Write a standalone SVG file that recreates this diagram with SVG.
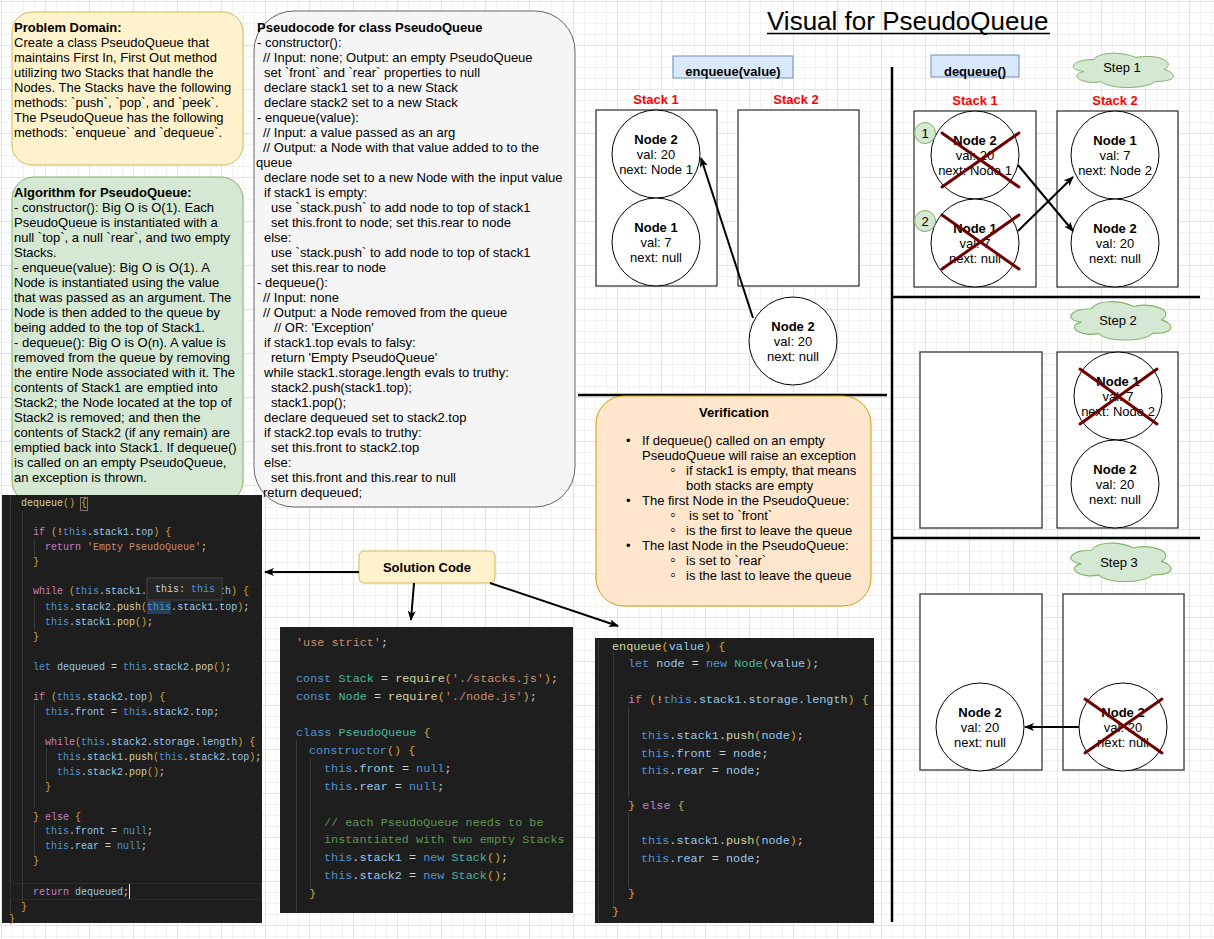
<svg xmlns="http://www.w3.org/2000/svg" width="1214" height="939" viewBox="0 0 1214 939">
<defs>
<pattern id="grid" x="1" y="1" width="44" height="44" patternUnits="userSpaceOnUse">
<path d="M11.5 0V44M22.5 0V44M33.5 0V44M0 11.5H44M0 22.5H44M0 33.5H44" stroke="#f1f1f1" stroke-width="1" fill="none"/>
<path d="M0.5 0V44M0 0.5H44" stroke="#e3e3e3" stroke-width="1" fill="none"/>
</pattern>
<marker id="arr" viewBox="0 0 10 8" markerWidth="10" markerHeight="8" refX="9" refY="4" orient="auto" markerUnits="userSpaceOnUse">
<path d="M0,0 L10,4 L0,8 L2.5,4 Z" fill="#000"/>
</marker>
<path id="cloud" d="M28,10 C5.6,10 0,20 17.92,22 C0,26.4 20.16,36 34.72,32 C44.8,40 78.4,40 89.6,32 C112,32 112,24 98,20 C112,12 89.6,4 70,8 C56,2 33.6,2 28,10 Z"/>
<style>
.t{font-family:"Liberation Sans",Arial,Helvetica,"DejaVu Sans",sans-serif;font-size:13px;fill:#000}
.b{font-weight:bold}
.m{text-anchor:middle}
.red{fill:#ff0000;font-weight:bold}
.sub{font-size:16px}
.node{fill:#fff;stroke:#000;stroke-width:1}
.stk{fill:#fff;stroke:#000;stroke-width:1}
.stk2{fill:#fff;stroke:#444;stroke-width:1.4}
.x{stroke:#6f0000;stroke-width:3;stroke-linecap:round}
.conn{stroke:#000;stroke-width:2;fill:none}
.div{stroke:#000;stroke-width:2.5}
.cl{fill:#d5e8d4;stroke:#82b366;stroke-width:1;vector-effect:non-scaling-stroke}
.code{font-family:"Liberation Mono","DejaVu Sans Mono",monospace;white-space:pre;fill:#cfcfcf}
.c10{font-size:10px}
.c12{font-size:11.8px}
.kw{fill:#c27fc0}
.bl{fill:#4f93d2}
.pr{fill:#94c9ec}
.fn{fill:#d6d3a0}
.st{fill:#c88c6c}
.ty{fill:#45b99f}
.cm{fill:#5f9450}
.br{fill:#d1a23a}
.gd{stroke:#3a3a3a;stroke-width:1}
</style>
</defs>

<rect x="0" y="0" width="1214" height="939" fill="#ffffff"/>
<rect x="0" y="0" width="1214" height="939" fill="url(#grid)"/>

<g id="problem-domain">
<rect x="12" y="12" width="231" height="153" rx="20" fill="#fff2cc" stroke="#d6b656"/>
<text class="t" x="14" y="31.5"><tspan class="b">Problem Domain:</tspan><tspan x="14" dy="15">Create a class PseudoQueue that</tspan><tspan x="14" dy="15">maintains First In, First Out method</tspan><tspan x="14" dy="15">utilizing two Stacks that handle the</tspan><tspan x="14" dy="15">Nodes. The Stacks have the following</tspan><tspan x="14" dy="15">methods: `push`, `pop`, and `peek`.</tspan><tspan x="14" dy="15">The PseudoQueue has the following</tspan><tspan x="14" dy="15">methods: `enqueue` and `dequeue`.</tspan></text>
</g>

<g id="algorithm">
<rect x="12" y="177" width="231" height="326" rx="22" fill="#d5e8d4" stroke="#82b366"/>
<text class="t" x="14" y="196.5"><tspan class="b">Algorithm for PseudoQueue:</tspan><tspan x="14" dy="15">- constructor(): Big O is O(1). Each</tspan><tspan x="14" dy="15">PseudoQueue is instantiated with a</tspan><tspan x="14" dy="15">null `top`, a null `rear`, and two empty</tspan><tspan x="14" dy="15">Stacks.</tspan><tspan x="14" dy="15">- enqueue(value): Big O is O(1). A</tspan><tspan x="14" dy="15">Node is instantiated using the value</tspan><tspan x="14" dy="15">that was passed as an argument. The</tspan><tspan x="14" dy="15">Node is then added to the queue by</tspan><tspan x="14" dy="15">being added to the top of Stack1.</tspan><tspan x="14" dy="15">- dequeue(): Big O is O(n). A value is</tspan><tspan x="14" dy="15">removed from the queue by removing</tspan><tspan x="14" dy="15">the entire Node associated with it. The</tspan><tspan x="14" dy="15">contents of Stack1 are emptied into</tspan><tspan x="14" dy="15">Stack2; the Node located at the top of</tspan><tspan x="14" dy="15">Stack2 is removed; and then the</tspan><tspan x="14" dy="15">contents of Stack2 (if any remain) are</tspan><tspan x="14" dy="15">emptied back into Stack1. If dequeue()</tspan><tspan x="14" dy="15">is called on an empty PseudoQueue,</tspan><tspan x="14" dy="15">an exception is thrown.</tspan></text>
</g>

<g id="pseudocode">
<rect x="254" y="11" width="321" height="496" rx="40" fill="#f5f5f5" stroke="#666666"/>
<text class="t" x="257" y="31.5"><tspan class="b">Pseudocode for class PseudoQueue</tspan><tspan x="257" dy="15">- constructor():</tspan><tspan x="263" dy="15">// Input: none; Output: an empty PseudoQueue</tspan><tspan x="264" dy="15">set `front` and `rear` properties to null</tspan><tspan x="264" dy="15">declare stack1 set to a new Stack</tspan><tspan x="264" dy="15">declare stack2 set to a new Stack</tspan><tspan x="257" dy="15">- enqueue(value):</tspan><tspan x="263" dy="15">// Input: a value passed as an arg</tspan><tspan x="263" dy="15">// Output: a Node with that value added to to the</tspan><tspan x="256" dy="15">queue</tspan><tspan x="264" dy="15">declare node set to a new Node with the input value</tspan><tspan x="264" dy="15">if stack1 is empty:</tspan><tspan x="271" dy="15">use `stack.push` to add node to top of stack1</tspan><tspan x="271" dy="15">set this.front to node; set this.rear to node</tspan><tspan x="264" dy="15">else:</tspan><tspan x="271" dy="15">use `stack.push` to add node to top of stack1</tspan><tspan x="271" dy="15">set this.rear to node</tspan><tspan x="257" dy="15">- dequeue():</tspan><tspan x="263" dy="15">// Input: none</tspan><tspan x="263" dy="15">// Output: a Node removed from the queue</tspan><tspan x="274" dy="15">// OR: 'Exception'</tspan><tspan x="264" dy="15">if stack1.top evals to falsy:</tspan><tspan x="271" dy="15">return 'Empty PseudoQueue'</tspan><tspan x="264" dy="15">while stack1.storage.length evals to truthy:</tspan><tspan x="271" dy="15">stack2.push(stack1.top);</tspan><tspan x="271" dy="15">stack1.pop();</tspan><tspan x="264" dy="15">declare dequeued set to stack2.top</tspan><tspan x="264" dy="15">if stack2.top evals to truthy:</tspan><tspan x="271" dy="15">set this.front to stack2.top</tspan><tspan x="264" dy="15">else:</tspan><tspan x="271" dy="15">set this.front and this.rear to null</tspan><tspan x="263" dy="15">return dequeued;</tspan></text>
</g>

<g id="code-dequeue">
<rect x="2" y="495" width="260" height="428" fill="#1e1e1e"/>
<line class="gd" x1="10.5" y1="497" x2="10.5" y2="915"/>
<line class="gd" x1="22.5" y1="511" x2="22.5" y2="902"/>
<line class="gd" x1="34.5" y1="539" x2="34.5" y2="556"/>
<line class="gd" x1="34.5" y1="597" x2="34.5" y2="630"/>
<line class="gd" x1="34.5" y1="703" x2="34.5" y2="808"/>
<line class="gd" x1="46.5" y1="748" x2="46.5" y2="781"/>
<line class="gd" x1="34.5" y1="822" x2="34.5" y2="855"/>
<rect x="10.5" y="883.5" width="251" height="16" fill="none" stroke="#2c2c2c"/>
<rect x="80.5" y="497.5" width="7" height="13" fill="none" stroke="#777"/>
<rect x="147" y="601" width="24" height="13" fill="#264f78" opacity="0.7"/>
<text class="code c10" x="21" y="505.5"><tspan class="fn">dequeue</tspan><tspan class="br">()</tspan> <tspan class="br">{</tspan></text>
<text class="code c10" x="33" y="534.5"><tspan class="kw">if</tspan> <tspan class="br">(</tspan>!<tspan class="bl">this</tspan>.<tspan class="pr">stack1</tspan>.<tspan class="pr">top</tspan><tspan class="br">)</tspan> <tspan class="br">{</tspan></text>
<text class="code c10" x="45" y="549.5"><tspan class="kw">return</tspan> <tspan class="st">'Empty PseudoQueue'</tspan>;</text>
<text class="code c10" x="33" y="564.5"><tspan class="br">}</tspan></text>
<text class="code c10" x="33" y="593.5"><tspan class="kw">while</tspan> <tspan class="br">(</tspan><tspan class="bl">this</tspan>.<tspan class="pr">stack1</tspan>.</text>
<text class="code c10" x="219" y="593.5"><tspan class="pr">th</tspan><tspan class="br">)</tspan> <tspan class="br">{</tspan></text>
<text class="code c10" x="45" y="609.5"><tspan class="bl">this</tspan>.<tspan class="pr">stack2</tspan>.<tspan class="fn">push</tspan><tspan class="br">(</tspan><tspan class="bl">this</tspan>.<tspan class="pr">stack1</tspan>.<tspan class="pr">top</tspan><tspan class="br">)</tspan>;</text>
<text class="code c10" x="45" y="624.5"><tspan class="bl">this</tspan>.<tspan class="pr">stack1</tspan>.<tspan class="fn">pop</tspan><tspan class="br">()</tspan>;</text>
<text class="code c10" x="33" y="639.5"><tspan class="br">}</tspan></text>
<text class="code c10" x="33" y="669.5"><tspan class="bl">let</tspan> <tspan class="pr">dequeued</tspan> = <tspan class="bl">this</tspan>.<tspan class="pr">stack2</tspan>.<tspan class="fn">pop</tspan><tspan class="br">()</tspan>;</text>
<text class="code c10" x="33" y="699.5"><tspan class="kw">if</tspan> <tspan class="br">(</tspan><tspan class="bl">this</tspan>.<tspan class="pr">stack2</tspan>.<tspan class="pr">top</tspan><tspan class="br">)</tspan> <tspan class="br">{</tspan></text>
<text class="code c10" x="45" y="714.5"><tspan class="bl">this</tspan>.<tspan class="pr">front</tspan> = <tspan class="bl">this</tspan>.<tspan class="pr">stack2</tspan>.<tspan class="pr">top</tspan>;</text>
<text class="code c10" x="45" y="744.5"><tspan class="kw">while</tspan><tspan class="br">(</tspan><tspan class="bl">this</tspan>.<tspan class="pr">stack2</tspan>.<tspan class="pr">storage</tspan>.<tspan class="pr">length</tspan><tspan class="br">)</tspan> <tspan class="br">{</tspan></text>
<text class="code c10" x="57" y="759.5"><tspan class="bl">this</tspan>.<tspan class="pr">stack1</tspan>.<tspan class="fn">push</tspan><tspan class="br">(</tspan><tspan class="bl">this</tspan>.<tspan class="pr">stack2</tspan>.<tspan class="pr">top</tspan><tspan class="br">)</tspan>;</text>
<text class="code c10" x="57" y="774.5"><tspan class="bl">this</tspan>.<tspan class="pr">stack2</tspan>.<tspan class="fn">pop</tspan><tspan class="br">()</tspan>;</text>
<text class="code c10" x="45" y="789.5"><tspan class="br">}</tspan></text>
<text class="code c10" x="33" y="819.5"><tspan class="br">}</tspan> <tspan class="kw">else</tspan> <tspan class="br">{</tspan></text>
<text class="code c10" x="45" y="833.5"><tspan class="bl">this</tspan>.<tspan class="pr">front</tspan> = <tspan class="bl">null</tspan>;</text>
<text class="code c10" x="45" y="848.5"><tspan class="bl">this</tspan>.<tspan class="pr">rear</tspan> = <tspan class="bl">null</tspan>;</text>
<text class="code c10" x="33" y="863.5"><tspan class="br">}</tspan></text>
<text class="code c10" x="33" y="894.5"><tspan class="kw">return</tspan> <tspan class="pr">dequeued</tspan>;</text>
<line x1="129.5" y1="884" x2="129.5" y2="899" stroke="#e0e0e0" stroke-width="1"/>
<text class="code c10" x="21" y="909.5"><tspan class="br">}</tspan></text>
<text class="code c10" x="9" y="922"><tspan class="br">}</tspan></text>
<rect x="147" y="578" width="75" height="22" fill="#252526" stroke="#454545"/>
<text class="code c10" x="155" y="591.5">this: <tspan class="bl">this</tspan></text>
</g>

<g id="code-class">
<rect x="280" y="627" width="293" height="286" fill="#1e1e1e"/>
<line class="gd" x1="296.5" y1="740" x2="296.5" y2="912"/>
<line class="gd" x1="310.5" y1="758" x2="310.5" y2="887"/>
<text class="code c12" x="296" y="646"><tspan class="st">'use strict'</tspan>;</text>
<text class="code c12" x="296" y="682"><tspan class="bl">const</tspan> <tspan class="ty">Stack</tspan> = <tspan class="fn">require</tspan><tspan class="br">(</tspan><tspan class="st">'./stacks.js'</tspan><tspan class="br">)</tspan>;</text>
<text class="code c12" x="296" y="700"><tspan class="bl">const</tspan> <tspan class="ty">Node</tspan> = <tspan class="fn">require</tspan><tspan class="br">(</tspan><tspan class="st">'./node.js'</tspan><tspan class="br">)</tspan>;</text>
<text class="code c12" x="296" y="736"><tspan class="bl">class</tspan> <tspan class="ty">PseudoQueue</tspan> <tspan class="br">{</tspan></text>
<text class="code c12" x="309" y="754"><tspan class="bl">constructor</tspan><tspan class="br">()</tspan> <tspan class="br">{</tspan></text>
<text class="code c12" x="324" y="772"><tspan class="bl">this</tspan>.<tspan class="pr">front</tspan> = <tspan class="bl">null</tspan>;</text>
<text class="code c12" x="324" y="790"><tspan class="bl">this</tspan>.<tspan class="pr">rear</tspan> = <tspan class="bl">null</tspan>;</text>
<text class="code c12 cm" x="324" y="826">// each PseudoQueue needs to be</text>
<text class="code c12 cm" x="324" y="843">instantiated with two empty Stacks</text>
<text class="code c12" x="324" y="861"><tspan class="bl">this</tspan>.<tspan class="pr">stack1</tspan> = <tspan class="bl">new</tspan> <tspan class="ty">Stack</tspan><tspan class="br">()</tspan>;</text>
<text class="code c12" x="324" y="879"><tspan class="bl">this</tspan>.<tspan class="pr">stack2</tspan> = <tspan class="bl">new</tspan> <tspan class="ty">Stack</tspan><tspan class="br">()</tspan>;</text>
<text class="code c12" x="309" y="897"><tspan class="br">}</tspan></text>
</g>

<g id="code-enqueue">
<rect x="595" y="638" width="279" height="285" fill="#1e1e1e"/>
<line class="gd" x1="598.5" y1="640" x2="598.5" y2="923"/>
<line class="gd" x1="613.5" y1="652" x2="613.5" y2="907"/>
<line class="gd" x1="628.5" y1="707" x2="628.5" y2="797"/>
<line class="gd" x1="628.5" y1="813" x2="628.5" y2="887"/>
<text class="code c12" x="612" y="650"><tspan class="fn">enqueue</tspan><tspan class="br">(</tspan><tspan class="pr">value</tspan><tspan class="br">)</tspan> <tspan class="br">{</tspan></text>
<text class="code c12" x="628" y="667"><tspan class="bl">let</tspan> <tspan class="pr">node</tspan> = <tspan class="bl">new</tspan> <tspan class="ty">Node</tspan><tspan class="br">(</tspan><tspan class="pr">value</tspan><tspan class="br">)</tspan>;</text>
<text class="code c12" x="628" y="703"><tspan class="kw">if</tspan> <tspan class="br">(</tspan>!<tspan class="bl">this</tspan>.<tspan class="pr">stack1</tspan>.<tspan class="pr">storage</tspan>.<tspan class="pr">length</tspan><tspan class="br">)</tspan> <tspan class="br">{</tspan></text>
<text class="code c12" x="641" y="739"><tspan class="bl">this</tspan>.<tspan class="pr">stack1</tspan>.<tspan class="fn">push</tspan><tspan class="br">(</tspan><tspan class="pr">node</tspan><tspan class="br">)</tspan>;</text>
<text class="code c12" x="641" y="757"><tspan class="bl">this</tspan>.<tspan class="pr">front</tspan> = <tspan class="pr">node</tspan>;</text>
<text class="code c12" x="641" y="774"><tspan class="bl">this</tspan>.<tspan class="pr">rear</tspan> = <tspan class="pr">node</tspan>;</text>
<text class="code c12" x="628" y="809"><tspan class="br">}</tspan> <tspan class="kw">else</tspan> <tspan class="br">{</tspan></text>
<text class="code c12" x="641" y="844"><tspan class="bl">this</tspan>.<tspan class="pr">stack1</tspan>.<tspan class="fn">push</tspan><tspan class="br">(</tspan><tspan class="pr">node</tspan><tspan class="br">)</tspan>;</text>
<text class="code c12" x="641" y="862"><tspan class="bl">this</tspan>.<tspan class="pr">rear</tspan> = <tspan class="pr">node</tspan>;</text>
<text class="code c12" x="628" y="897"><tspan class="br">}</tspan></text>
<text class="code c12" x="612" y="915"><tspan class="br">}</tspan></text>
</g>

<g id="solution-code">
<rect x="359" y="551" width="136" height="32" rx="5" fill="#fff2cc" stroke="#d6b656"/>
<text class="t b m" x="427" y="571.5">Solution Code</text>
</g>

<g id="title">
<text class="t" x="767" y="30" style="font-size:26px">Visual for PseudoQueue</text>
<line x1="767" y1="33.5" x2="1050" y2="33.5" stroke="#000" stroke-width="1.5"/>
</g>

<g id="dividers">
<line class="div" x1="892" y1="67" x2="892" y2="922"/>
<line class="div" x1="578" y1="395" x2="887" y2="395"/>
<line class="div" x1="892" y1="297" x2="1200" y2="297"/>
<line class="div" x1="892" y1="538" x2="1200" y2="538"/>
</g>

<g id="enqueue-label">
<rect x="673" y="56" width="120" height="22" fill="#dae8fc" stroke="#6c8ebf"/>
<text class="t b m" x="733" y="75.5">enqueue(value)</text>
</g>

<g id="enq-stack1">
<text class="t red m" x="656" y="104">Stack 1</text>
<rect class="stk" x="596" y="110" width="121" height="176"/>
</g>
<g id="enq-stack2">
<text class="t red m" x="796" y="104">Stack 2</text>
<rect class="stk" x="738" y="110" width="121" height="176"/>
</g>
<g id="enq-node2">
<circle class="node" cx="656" cy="154" r="44"/>
<text class="t m" x="656" y="143.5"><tspan class="b">Node 2</tspan><tspan x="656" dy="15">val: 20</tspan><tspan x="656" dy="15">next: Node 1</tspan></text>
</g>
<g id="enq-node1">
<circle class="node" cx="656" cy="242" r="44"/>
<text class="t m" x="656" y="231.5"><tspan class="b">Node 1</tspan><tspan x="656" dy="15">val: 7</tspan><tspan x="656" dy="15">next: null</tspan></text>
</g>
<g id="enq-new-node2">
<circle class="node" cx="793" cy="341" r="44"/>
<text class="t m" x="793" y="330.5"><tspan class="b">Node 2</tspan><tspan x="793" dy="15">val: 20</tspan><tspan x="793" dy="15">next: null</tspan></text>
</g>

<g id="verification">
<rect x="596" y="396" width="275" height="210" rx="28" fill="#ffe6cc" stroke="#d79b00"/>
<text class="t b m" x="734" y="416.5">Verification</text>
<text class="t"><tspan x="626" y="444.5">•</tspan><tspan x="642" y="444.5">If dequeue() called on an empty</tspan><tspan x="642" y="459.5">PseudoQueue will raise an exception</tspan><tspan class="sub" x="670" y="475">◦</tspan><tspan x="686" y="474.5">if stack1 is empty, that means</tspan><tspan x="686" y="489.5">both stacks are empty</tspan><tspan x="626" y="504.5">•</tspan><tspan x="642" y="504.5">The first Node in the PseudoQueue:</tspan><tspan class="sub" x="670" y="520">◦</tspan><tspan x="689" y="519.5">is set to `front`</tspan><tspan class="sub" x="670" y="535">◦</tspan><tspan x="686" y="534.5">is the first to leave the queue</tspan><tspan x="626" y="549.5">•</tspan><tspan x="642" y="549.5">The last Node in the PseudoQueue:</tspan><tspan class="sub" x="670" y="565">◦</tspan><tspan x="686" y="564.5">is set to `rear`</tspan><tspan class="sub" x="670" y="580">◦</tspan><tspan x="686" y="579.5">is the last to leave the queue</tspan></text>
</g>

<g id="dequeue-label">
<rect x="931" y="55" width="88" height="22" fill="#dae8fc" stroke="#6c8ebf"/>
<text class="t b m" x="975" y="75.5">dequeue()</text>
</g>

<g id="step1">
<use href="#cloud" class="cl" transform="translate(1066,49.5)"/>
<text class="t m" x="1122" y="71.5">Step 1</text>
</g>
<g id="s1-stack1">
<text class="t red m" x="975" y="104.5">Stack 1</text>
<rect class="stk" x="914" y="111" width="122" height="176"/>
</g>
<g id="s1-stack2">
<text class="t red m" x="1115" y="104.5">Stack 2</text>
<rect class="stk" x="1057" y="111" width="121" height="176"/>
</g>
<g id="s1-node2">
<circle class="node" cx="975" cy="155" r="44"/>
<text class="t m" x="975" y="144.5"><tspan class="b">Node 2</tspan><tspan x="975" dy="15">val: 20</tspan><tspan x="975" dy="15">next: Node 1</tspan></text>
<line class="x" x1="942" y1="133" x2="1019" y2="187"/>
<line class="x" x1="942" y1="187" x2="1019" y2="133"/>
</g>
<g id="s1-node1">
<circle class="node" cx="975" cy="243" r="44"/>
<text class="t m" x="975" y="232.5"><tspan class="b">Node 1</tspan><tspan x="975" dy="15">val: 7</tspan><tspan x="975" dy="15">next: null</tspan></text>
<line class="x" x1="942" y1="215" x2="1019" y2="269"/>
<line class="x" x1="942" y1="269" x2="1019" y2="215"/>
</g>
<g id="s1-badge1">
<circle cx="925" cy="133" r="10.5" fill="#d5e8d4" stroke="#82b366"/>
<text class="t m" x="925" y="137.5">1</text>
</g>
<g id="s1-badge2">
<circle cx="925" cy="221" r="10.5" fill="#d5e8d4" stroke="#82b366"/>
<text class="t m" x="925" y="225.5">2</text>
</g>
<g id="s1-s2-node1">
<circle class="node" cx="1115" cy="155" r="44"/>
<text class="t m" x="1115" y="144.5"><tspan class="b">Node 1</tspan><tspan x="1115" dy="15">val: 7</tspan><tspan x="1115" dy="15">next: Node 2</tspan></text>
</g>
<g id="s1-s2-node2">
<circle class="node" cx="1115" cy="243" r="44"/>
<text class="t m" x="1115" y="232.5"><tspan class="b">Node 2</tspan><tspan x="1115" dy="15">val: 20</tspan><tspan x="1115" dy="15">next: null</tspan></text>
</g>

<g id="step2">
<use href="#cloud" class="cl" transform="translate(1063.5,297.5) scale(1,1.12)"/>
<text class="t m" x="1118" y="324.5">Step 2</text>
</g>
<g id="s2-stack1">
<rect class="stk2" x="920" y="352" width="122" height="176"/>
</g>
<g id="s2-stack2">
<rect class="stk" x="1057" y="352" width="121" height="176"/>
</g>
<g id="s2-node1">
<circle class="node" cx="1118" cy="396" r="44"/>
<text class="t m" x="1118" y="385.5"><tspan class="b">Node 1</tspan><tspan x="1118" dy="15">val: 7</tspan><tspan x="1118" dy="15">next: Node 2</tspan></text>
<line class="x" x1="1080" y1="369" x2="1157" y2="424"/>
<line class="x" x1="1080" y1="424" x2="1157" y2="369"/>
</g>
<g id="s2-node2">
<circle class="node" cx="1115" cy="484" r="44"/>
<text class="t m" x="1115" y="473.5"><tspan class="b">Node 2</tspan><tspan x="1115" dy="15">val: 20</tspan><tspan x="1115" dy="15">next: null</tspan></text>
</g>

<g id="step3">
<use href="#cloud" class="cl" transform="translate(1063.5,539) scale(1,1.12)"/>
<text class="t m" x="1119" y="566.5">Step 3</text>
</g>
<g id="s3-stack1">
<rect class="stk2" x="920" y="594" width="122" height="176"/>
</g>
<g id="s3-stack2">
<rect class="stk2" x="1063" y="594" width="121" height="176"/>
</g>
<g id="s3-node2-left">
<circle class="node" cx="980" cy="727" r="44"/>
<text class="t m" x="980" y="716.5"><tspan class="b">Node 2</tspan><tspan x="980" dy="15">val: 20</tspan><tspan x="980" dy="15">next: null</tspan></text>
</g>
<g id="s3-node2-right">
<circle class="node" cx="1123" cy="727" r="44"/>
<text class="t m" x="1123" y="716.5"><tspan class="b">Node 2</tspan><tspan x="1123" dy="15">val: 20</tspan><tspan x="1123" dy="15">next: null</tspan></text>
<line class="x" x1="1085" y1="699" x2="1162" y2="753"/>
<line class="x" x1="1085" y1="753" x2="1162" y2="699"/>
</g>

<g id="connectors">
<line class="conn" x1="753" y1="318" x2="701" y2="158" marker-end="url(#arr)"/>
<line class="conn" x1="1018" y1="165" x2="1073" y2="231" marker-end="url(#arr)"/>
<line class="conn" x1="1018" y1="231" x2="1073" y2="177" marker-end="url(#arr)"/>
<line class="conn" x1="1079" y1="727" x2="1025" y2="727" marker-end="url(#arr)"/>
<line class="conn" x1="359" y1="572" x2="265" y2="572" marker-end="url(#arr)"/>
<line class="conn" x1="414" y1="583" x2="411" y2="620" marker-end="url(#arr)"/>
<line class="conn" x1="490" y1="583" x2="618" y2="626" marker-end="url(#arr)"/>
</g>
</svg>
